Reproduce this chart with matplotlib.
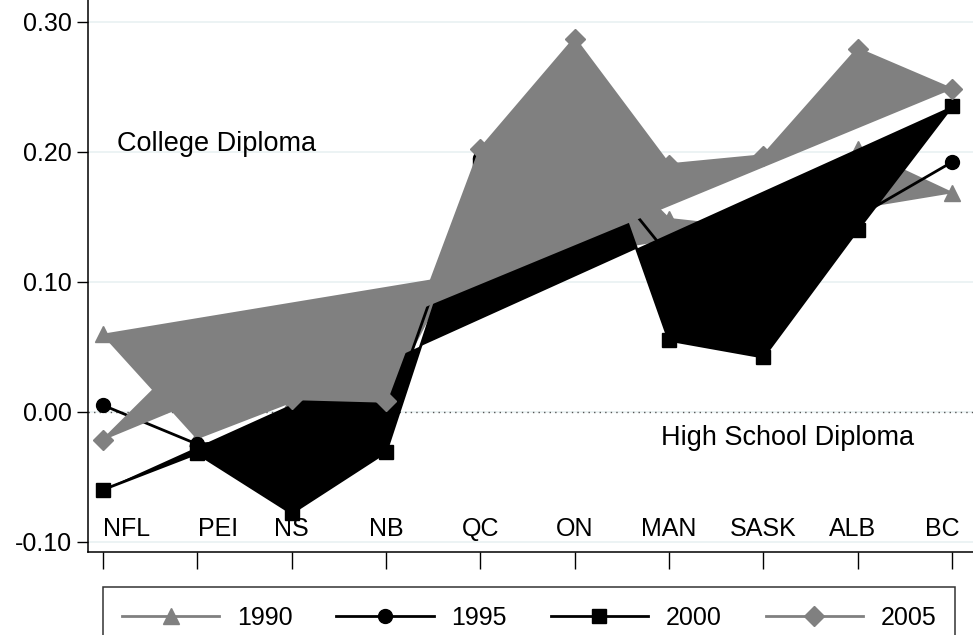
import matplotlib
matplotlib.use("Agg")
import matplotlib.pyplot as plt
from matplotlib.lines import Line2D

plt.rcParams['font.family'] = ['Liberation Sans', 'DejaVu Sans']

# provinces along the x axis
provinces = ["NFL", "PEI", "NS", "NB", "QC", "ON", "MAN", "SASK", "ALB", "BC"]
# where each province name sits (the end labels are pulled inside the frame)
label_pos = [0.25, 1.22, 2, 3, 4, 5, 6, 7, 7.95, 8.9]

# values, one list per year
y1990 = [0.060, -0.020, 0.008, 0.010, 0.150, 0.220, 0.148, 0.140, 0.202, 0.168]
y1995 = [0.005, -0.025, -0.020, -0.010, 0.195, 0.210, 0.120, 0.120, 0.150, 0.192]
y2000 = [-0.060, -0.032, -0.078, -0.031, 0.190, 0.260, 0.055, 0.042, 0.140, 0.235]
y2005 = [-0.022, 0.050, 0.010, 0.008, 0.202, 0.287, 0.190, 0.197, 0.279, 0.248]

years = ["1990", "1995", "2000", "2005"]
GRAY = "#808080"

fig = plt.figure(figsize=(9.73, 6.35), dpi=100)
ax = fig.add_axes([87.5 / 973, (635 - 552) / 635, 1 - 87.5 / 973, 552 / 635])

x = list(range(len(provinces)))

# light grid + dotted zero line
for g in [0.30, 0.20, 0.10, -0.10]:
    ax.axhline(g, color="#eaf2f3", lw=1.3, zorder=0)
ax.axhline(0.0, color="#eaf2f3", lw=1.3, zorder=0)
ax.axhline(0.0, color="#555555", lw=1.0, linestyle=(0, (1, 3)), zorder=0.5)

# each series drawn as a closed (filled) polyline, like the exported graph
ax.fill(x, y1990, color=GRAY, lw=0, zorder=1)
ax.plot(x, y1990, color=GRAY, lw=2, marker="^", ms=11, zorder=1.1)

ax.plot(x, y1995, color="black", lw=2, marker="o", ms=10, zorder=2.1)

ax.fill(x, y2000, color="black", lw=0, zorder=3)
ax.plot(x, y2000, color="black", lw=2, marker="s", ms=10, zorder=3.1)

ax.fill(x, y2005, color=GRAY, lw=0, zorder=4)
ax.plot(x, y2005, color=GRAY, lw=2, marker="D", ms=10, zorder=4.1)

ax.set_xlim(-0.164, 9.223)
ax.set_ylim(-0.1079, 0.3167)

ax.set_yticks([-0.10, 0.00, 0.10, 0.20, 0.30])
ax.set_yticklabels(["-0.10", "0.00", "0.10", "0.20", "0.30"], fontsize=18)
ax.set_xticks(x)
ax.set_xticklabels([])
ax.tick_params(axis="y", direction="out", length=8, width=1, pad=3)
ax.tick_params(axis="x", direction="out", length=12.5, width=1)

for s in ["top", "right"]:
    ax.spines[s].set_visible(False)
for s in ["left", "bottom"]:
    ax.spines[s].set_linewidth(1.1)

# province names sit inside the plot area
for xp, name in zip(label_pos, provinces):
    ax.text(xp, -0.0905, name, ha="center", va="center", fontsize=18, zorder=6)

ax.text(0.15, 0.206, "College Diploma", ha="left", va="center", fontsize=19.5, zorder=6)
ax.text(5.92, -0.020, "High School Diploma", ha="left", va="center", fontsize=19.5, zorder=6)

handles = [
    Line2D([], [], color=GRAY, lw=2, marker="^", ms=11),
    Line2D([], [], color="black", lw=2, marker="o", ms=10),
    Line2D([], [], color="black", lw=2, marker="s", ms=10),
    Line2D([], [], color=GRAY, lw=2, marker="D", ms=10),
]
leg = fig.legend(handles, years, loc="upper left", ncol=4, mode="expand",
                 bbox_to_anchor=(103 / 973, 0, (955 - 103) / 973, 1 - 587 / 635),
                 borderaxespad=0, fontsize=18, handlelength=3.9, handletextpad=0.7,
                 frameon=True, fancybox=False, borderpad=0.75)
leg.get_frame().set_edgecolor("black")
leg.get_frame().set_linewidth(1.1)

fig.savefig("out.png", dpi=100)
